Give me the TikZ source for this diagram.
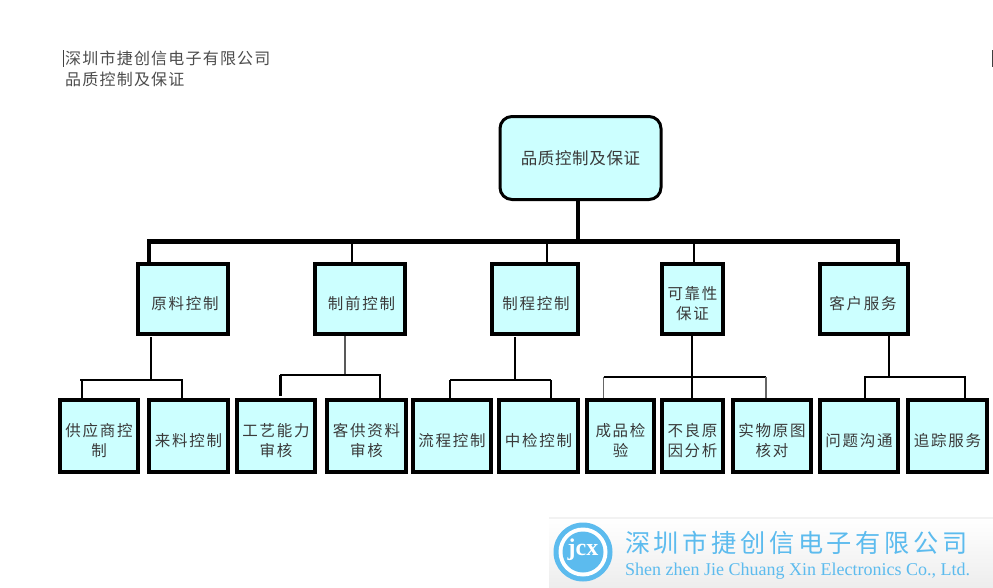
\documentclass[tikz,border=0pt]{standalone}
\usepackage{fontspec}
\setmainfont{Liberation Serif}
\newfontfamily\cjk[LetterSpace=11]{Noto Sans CJK SC}
\newfontfamily\cjkcap[LetterSpace=7.5]{Noto Sans CJK SC}
\newfontfamily\cjkroot[LetterSpace=4]{Noto Sans CJK SC}
\newfontfamily\cjkwide[LetterSpace=14.3]{Noto Sans CJK SC}
\definecolor{boxfill}{HTML}{CCFFFF}
\definecolor{boxtext}{HTML}{3A3A3A}
\definecolor{logoblue}{HTML}{5CBBEE}
\tikzset{
  boxnode/.style={draw=black,line width=4pt,fill=boxfill,inner sep=0pt,align=center,text=boxtext,
    font=\cjk\fontsize{15.5}{20.5}\selectfont},
  rootnode/.style={boxnode,line width=3pt,rounded corners=12pt,font=\cjkroot\fontsize{16.5}{20}\selectfont},
  busthick/.style={line width=5pt},
  dropthick/.style={line width=4pt},
  dropmid/.style={line width=2.2pt},
  subline/.style={line width=2.2pt},
  subgray/.style={line width=1.5pt,draw=black!60},
  caption/.style={anchor=west,inner sep=0pt,text=black!70,font=\cjkcap\fontsize{16}{20}\selectfont},
  cursor/.style={line width=1pt,draw=black!75},
}
% name, x1, y1, x2, y2 (outer edges), text; the strut sets the text slightly below the box centre
\newcommand{\bx}[6]{\node[boxnode,minimum width=(#4-#2-4)*1pt,minimum height=(#5-#3-4)*1pt] (#1) at ({(#2+#4)/2},{(#3+#5)/2}) {\rule{0pt}{22pt}#6};}
\begin{document}
\begin{tikzpicture}[x=1pt,y=-1pt]
\useasboundingbox (0,0) rectangle (993,587);

% captions
\coordinate (curA1) at (63,50); \coordinate (curA2) at (63,67);
\coordinate (curB1) at (992,50); \coordinate (curB2) at (992,67);
\draw[cursor] (curA1) -- (curA2);
\draw[cursor] (curB1) -- (curB2);
\node[caption] (capa) at (65,58) {深圳市捷创信电子有限公司};
\node[caption] (capb) at (65,79) {品质控制及保证};

% root
\node[rootnode,minimum width=161pt,minimum height=83pt] (root) at (580.5,158) {品质控制及保证};

% level 1
\bx{a}{136}{262}{230}{336}{\hspace{4pt}原料控制}
\bx{b}{313}{262}{407}{336}{\hspace{3pt}制前控制}
\bx{c}{490}{262}{580}{336}{\hspace{2pt}制程控制}
\bx{d}{660}{262}{725}{336}{可靠性\\保证}
\bx{e}{818}{262}{910}{336}{\hspace{-2pt}客户服务}

% level 2
\bx{a1}{58}{398}{140}{474}{供应商控\\制}
\bx{a2}{147}{398}{230}{474}{来料控制}
\bx{b1}{235}{398}{317}{474}{工艺能力\\审核}
\bx{b2}{325}{398}{408}{474}{客供资料\\审核}
\bx{c1}{411}{398}{493}{474}{流程控制}
\bx{c2}{497}{398}{580}{474}{中检控制}
\bx{d1}{585}{398}{656}{474}{成品检\\验}
\bx{d2}{660}{398}{725}{474}{不良原\\因分析}
\bx{d3}{731}{398}{813}{474}{实物原图\\核对}
\bx{e1}{818}{398}{900}{474}{问题沟通}
\bx{e2}{906}{398}{989}{474}{追踪服务}

% main bus
\coordinate (busL) at (149,241);
\coordinate (busR) at (897.5,241);
\coordinate (busT) at (578,241);
\coordinate (busB) at (352,241);
\coordinate (busC) at (547,241);
\coordinate (busD) at (694,241);
\draw[dropthick] (root.south -| busT) -- (busT);
\draw[busthick,line cap=rect] (busL) -- (busR);
\draw[dropthick] (busL) -- (busL |- a.north);
\draw[dropthick] (busR) -- (busR |- e.north);
\draw[dropmid] (busB) -- (busB |- b.north);
\draw[dropmid] (busC) -- (busC |- c.north);
\draw[dropmid] (busD) -- ([yshift=-3pt]busD |- d.north);

% branch a
\coordinate (aj) at (151,380); \coordinate (al) at (80,380); \coordinate (ar) at (183,380);
\coordinate (ad1) at (82,380); \coordinate (ad2) at (182,380);
\draw[subline] ([yshift=-1pt]aj |- a.south) -- (aj);
\draw[subline] (al) -- (ar);
\draw[subline] (ad1) -- (ad1 |- a1.north);
\draw[subline] (ad2) -- ([yshift=-4pt]ad2 |- a2.north);

% branch b
\coordinate (bj) at (345,375); \coordinate (bl) at (280,375); \coordinate (br) at (381,375);
\draw[subline,draw=black!65] (bj |- b.south) -- (bj);
\draw[subline] (bl) -- (br);
\draw[subline] ([xshift=0.5pt]bl) -- ([xshift=0.5pt,yshift=2pt]bl |- b1.north);
\draw[subline] ([xshift=-1pt]br) -- ([xshift=-1pt]br |- b2.north);

% branch c
\coordinate (cj) at (515,380); \coordinate (cl) at (450,380); \coordinate (cr) at (551,380);
\draw[subline] ([yshift=-1pt]cj |- c.south) -- (cj);
\draw[subline] (cl) -- (cr);
\draw[subline] (cl) -- (cl |- c1.north);
\draw[subline] (cr) -- ([yshift=-4pt]cr |- c2.north);

% branch d
\coordinate (dj) at (692,377); \coordinate (dl) at (603.5,377); \coordinate (dr) at (766,377);
\draw[subline] (dj |- d.south) -- (dj |- d2.north);
\draw[subline] (dl) -- (dr);
\draw[subgray] (dl) -- (dl |- d1.north);
\draw[subgray] (dr) -- (dr |- d3.north);

% branch e
\coordinate (ej) at (889,377); \coordinate (el) at (865,377); \coordinate (er) at (965,377);
\draw[subline] (ej |- e.south) -- (ej);
\draw[subline,line cap=rect] (el) -- (er);
\draw[subline] (el) -- (el |- e1.north);
\draw[subline] (er) -- (er |- e2.north);

% logo banner
\shade[top color=white,bottom color=black!7,draw=none] (549,518) rectangle (993,587);
\fill[black!5] (549,517) rectangle (993,518.5);
\fill[logoblue] (583,552) circle (29.5);
\fill[white] (583,552) circle (24.5);
\fill[logoblue] (583,552) circle (20.5);
\node[inner sep=0pt,text=white,font=\bfseries\fontsize{24}{24}\selectfont] (logomark) at (583,550) {jcx};
\node[anchor=west,inner sep=0pt,text=logoblue,font=\cjkwide\fontsize{25.2}{28}\selectfont] (logocn) at (625,543) {深圳市捷创信电子有限公司};
\node[anchor=west,inner sep=0pt,text=logoblue,font=\fontsize{18}{20}\selectfont] (logoen) at (625,571) {Shen zhen Jie Chuang Xin Electronics Co., Ltd.};
\end{tikzpicture}
\end{document}
